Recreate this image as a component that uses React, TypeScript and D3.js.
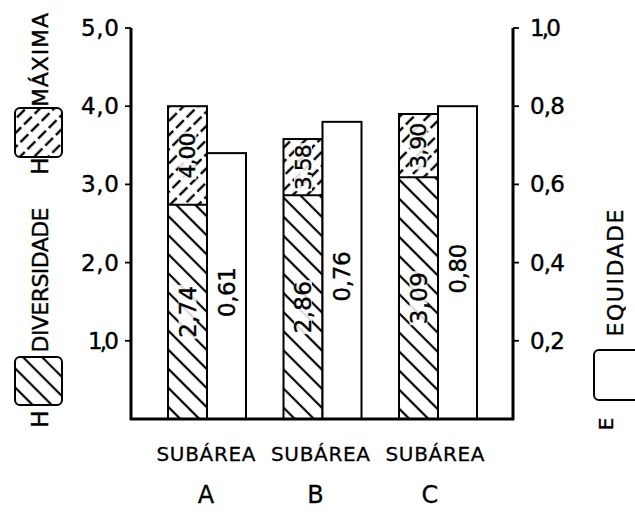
import React from "react";
import * as d3 from "d3";

const categories = ["A", "B", "C"];
const hMax = [4.0, 3.58, 3.9];
const hDiv = [2.74, 2.86, 3.09];
const equity = [0.68, 0.76, 0.8];
const equityLabels = ["0,61", "0,76", "0,80"];
const leftTicks = [1, 2, 3, 4, 5];
const rightTicks = [0.2, 0.4, 0.6, 0.8, 1.0];

const W = 635;
const H = 512;
const FONT = "'DejaVu Sans', Verdana, sans-serif";

const fmt2 = (v: number) => d3.format(".2f")(v).replace(".", ",");
const fmt1 = (v: number) => d3.format(".1f")(v).replace(".", ",");

export default function App() {
  const yL = d3.scaleLinear().domain([0, 5]).range([419, 28]);
  const yR = d3.scaleLinear().domain([0, 1]).range([419, 28]);
  const x = d3.scalePoint<string>().domain(categories).range([207, 438]);
  const xLab = d3.scalePoint<string>().domain(categories).range([206, 435]);
  const barW = 39;
  const axL = 131;
  const axR = 513;
  const base = yL(0);

  const rotText = (
    cx: number,
    cy: number,
    txt: string,
    size: number,
    len?: number
  ) => (
    <text
      transform={`translate(${cx},${cy}) rotate(-90)`}
      textAnchor="middle"
      dominantBaseline="central"
      fontSize={size}
      fontFamily={FONT}
      fill="#000"
      stroke="#000"
      strokeWidth={0.4}
      textLength={len}
      lengthAdjust="spacing"
    >
      {txt}
    </text>
  );

  return (
    <svg
      width={W}
      height={H}
      style={{ position: "absolute", left: 0, top: 0, background: "#fff" }}
    >
      <defs>
        <pattern
          id="hDiv"
          width={13.5}
          height={13.5}
          patternUnits="userSpaceOnUse"
          patternTransform="rotate(-45)"
        >
          <line x1={6.75} y1={0} x2={6.75} y2={13.5} stroke="#000" strokeWidth={2.2} />
        </pattern>
        <pattern
          id="hMax"
          width={10}
          height={15}
          patternUnits="userSpaceOnUse"
          patternTransform="rotate(45)"
        >
          <line
            x1={5}
            y1={0}
            x2={5}
            y2={15}
            stroke="#000"
            strokeWidth={2.4}
            strokeDasharray="11 4"
          />
        </pattern>
      </defs>
      <rect x={0} y={0} width={W} height={H} fill="#fff" />

      {/* bars */}
      {categories.map((c, i) => {
        const cx = x(c) as number;
        const yTop = yL(hMax[i]);
        const yMid = yL(hDiv[i]);
        const yE = yR(equity[i]);
        return (
          <g key={c}>
            <rect x={cx - barW} y={yTop} width={barW} height={yMid - yTop} fill="url(#hMax)" />
            <rect x={cx - barW} y={yMid} width={barW} height={base - yMid} fill="url(#hDiv)" />
            <rect
              x={cx - barW / 2 - 9}
              y={(yTop + yMid) / 2 - 24}
              width={18}
              height={48}
              fill="#fff"
              opacity={0.85}
            />
            <rect
              x={cx - barW / 2 - 9}
              y={(yMid + base) / 2 - 27}
              width={18}
              height={54}
              fill="#fff"
              opacity={0.85}
            />
            <rect
              x={cx - barW}
              y={yTop}
              width={barW}
              height={base - yTop}
              fill="none"
              stroke="#000"
              strokeWidth={2}
            />
            <line x1={cx - barW} x2={cx} y1={yMid} y2={yMid} stroke="#000" strokeWidth={2} />
            <rect
              x={cx}
              y={yE}
              width={barW}
              height={base - yE}
              fill="#fff"
              stroke="#000"
              strokeWidth={2}
            />
            {rotText(cx - barW / 2, (yTop + yMid) / 2, fmt2(hMax[i]), 22, 46)}
            {rotText(cx - barW / 2, (yMid + base) / 2, fmt2(hDiv[i]), 23, 52)}
            {rotText(cx + barW / 2, (yE + base) / 2 + 6, equityLabels[i], 23, 50)}
          </g>
        );
      })}

      {/* left axis */}
      <line x1={axL} x2={axL} y1={yL(5)} y2={base + 1} stroke="#000" strokeWidth={3} />
      {leftTicks.map((t) => (
        <g key={"l" + t}>
          <line x1={axL - 6} x2={axL} y1={yL(t)} y2={yL(t)} stroke="#000" strokeWidth={1.8} />
          <text
            x={119}
            y={yL(t)}
            textAnchor="end"
            dominantBaseline="central"
            fontSize={23}
            fontFamily={FONT}
            stroke="#000"
            strokeWidth={0.4}
            textLength={t === 1 ? 31 : 38}
            lengthAdjust="spacing"
          >
            {fmt1(t)}
          </text>
        </g>
      ))}

      {/* right axis */}
      <line x1={axR} x2={axR} y1={yR(1)} y2={base + 1} stroke="#000" strokeWidth={3} />
      {rightTicks.map((t) => (
        <g key={"r" + t}>
          <line x1={axR} x2={axR + 6} y1={yR(t)} y2={yR(t)} stroke="#000" strokeWidth={1.8} />
          <text
            x={530}
            y={yR(t)}
            textAnchor="start"
            dominantBaseline="central"
            fontSize={23}
            fontFamily={FONT}
            stroke="#000"
            strokeWidth={0.4}
            textLength={t === 1 ? 31 : 35}
            lengthAdjust="spacing"
          >
            {fmt1(t)}
          </text>
        </g>
      ))}

      {/* baseline */}
      <line x1={axL - 1} x2={axR + 1} y1={base} y2={base} stroke="#000" strokeWidth={3} />

      {/* category labels */}
      {categories.map((c) => (
        <g key={"lab" + c}>
          <text
            x={xLab(c) as number}
            y={461}
            textAnchor="middle"
            fontSize={20}
            fontFamily={FONT}
            stroke="#000"
            strokeWidth={0.3}
            textLength={99}
            lengthAdjust="spacing"
          >
            SUBÁREA
          </text>
          <text
            x={(xLab(c) as number) - (c === "A" ? 0 : 5)}
            y={503}
            textAnchor="middle"
            fontSize={24}
            fontFamily={FONT}
            stroke="#000"
            strokeWidth={0.3}
          >
            {c}
          </text>
        </g>
      ))}

      {/* legend: H máxima */}
      {rotText(40, 60, "MÁXIMA", 22, 94)}
      <rect x={15} y={108} width={47} height={49} rx={5} fill="url(#hMax)" stroke="#000" strokeWidth={2} />
      {rotText(40, 166, "H", 23)}

      {/* legend: H diversidade */}
      {rotText(40, 280, "DIVERSIDADE", 22, 145)}
      <rect x={15} y={357} width={47} height={48} rx={5} fill="url(#hDiv)" stroke="#000" strokeWidth={2} />
      {rotText(40, 419, "H", 23)}

      {/* legend: equidade */}
      {rotText(615, 273, "EQUIDADE", 22, 127)}
      <rect x={594} y={350} width={48} height={50} rx={5} fill="#fff" stroke="#000" strokeWidth={2} />
      {rotText(606, 424, "E", 20)}
    </svg>
  );
}
